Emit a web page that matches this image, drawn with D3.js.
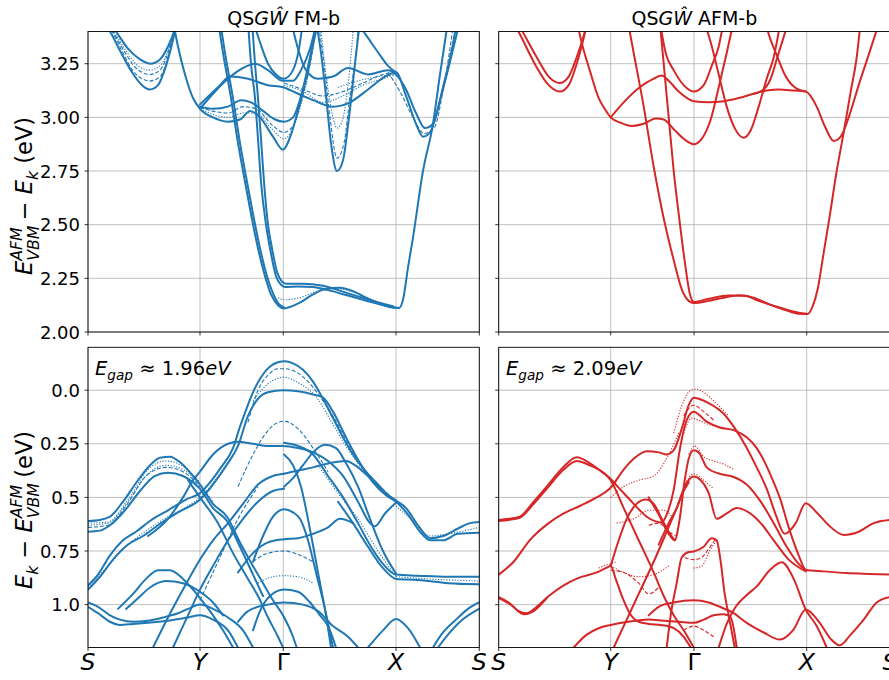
<!DOCTYPE html>
<html><head><meta charset="utf-8">
<script src="https://cdn.jsdelivr.net/npm/d3@7"></script>
<style>body{margin:0;background:#fff} text{font-family:"DejaVu Sans",sans-serif}</style>
</head><body><svg id="c" width="889" height="680"></svg>
<script>
// k-path node positions (arb. units) and labels
const kNodes = [0, 112, 195.3, 308, 391.3];
const kLabels = ["S", "Y", "Γ", "X", "S"];
const condTicks = [2.00, 2.25, 2.50, 2.75, 3.00, 3.25];
const condTickLabels = ["2.00", "2.25", "2.50", "2.75", "3.00", "3.25"];
const valTicks = [0.0, 0.25, 0.5, 0.75, 1.0];
const valTickLabels = ["0.0", "0.25", "0.5", "0.75", "1.0"];
const condDomain = [2.0, 3.4];
const valDomain = [-0.2, 1.2];
const gapFM = "1.96", gapAFM = "2.09";

// ---- FM conduction (top-left): [k, E]
const fmCondSolid = [
 [[14,3.45],[22,3.40],[32,3.31],[44,3.21],[54,3.15],[62,3.13],[70,3.15],[78,3.24],[85,3.36],[89,3.45]],
 [[20,3.45],[28,3.40],[40,3.32],[52,3.27],[62,3.25],[72,3.27],[80,3.33],[86,3.40],[89,3.45]],
 [[85,3.45],[90,3.33],[97,3.20],[105,3.09],[112,3.04],[125,3.0],[140,2.98],[152,2.99],[162,3.03],[172,3.0],[185,2.91],[195,2.85],[203,2.92],[211,3.05],[220,3.22],[228,3.40],[231,3.45]],
 [[112,3.05],[125,3.04],[140,3.05],[153,3.08],[163,3.07],[175,3.03],[187,2.99],[196,2.98],[205,3.0],[213,3.1],[222,3.28],[229,3.45]],
 [[112,3.04],[125,3.11],[140,3.18],[155,3.23],[167,3.25],[180,3.22],[195,3.17],[205,3.17],[213,3.22],[222,3.32],[229,3.45]],
 [[112,3.06],[130,3.14],[142,3.19],[160,3.18],[180,3.15],[195,3.14],[210,3.11],[225,3.08],[245,3.05],[262,3.07],[280,3.13],[297,3.19],[308,3.21],[318,3.10],[328,2.97],[335,2.91],[342,2.93],[352,3.08],[362,3.26],[372,3.45]],
 [[203,3.45],[210,3.32],[218,3.22],[230,3.18],[245,3.19],[260,3.23],[280,3.20],[300,3.22],[308,3.20],[318,3.13],[328,3.02],[337,2.95],[345,2.97],[355,3.14],[364,3.32],[369,3.45]],
 [[228,3.45],[233,3.30],[238,3.10],[243,2.88],[249,2.75],[255,2.80],[261,3.0],[267,3.25],[272,3.45]],
 [[130,3.45],[135,3.3],[143,3.09],[150,2.88],[157,2.70],[163,2.55],[170,2.39],[177,2.26],[183,2.175],[190,2.125],[196,2.11],[212,2.137],[225,2.175],[237,2.2],[252,2.206],[265,2.19],[280,2.155],[295,2.125],[305,2.113],[311,2.112],[315,2.15],[320,2.3],[325,2.44],[335,2.75],[345,2.97],[352,3.2],[360,3.45]],
 [[132,3.45],[137,3.3],[145,3.09],[152,2.88],[159,2.70],[165,2.55],[172,2.39],[179,2.26],[185,2.18],[191,2.13],[196,2.115]],
 [[160,3.45],[163,3.25],[167,3.09],[170,2.9],[173,2.70],[178,2.5],[182,2.39],[188,2.26],[193,2.22],[197,2.21],[210,2.212],[225,2.21],[240,2.195],[260,2.17],[285,2.137],[300,2.12],[311,2.112]],
 [[164,3.45],[167,3.25],[170,3.09],[173,2.9],[176,2.7],[180,2.5],[184,2.39],[189,2.28],[194,2.235],[198,2.225],[215,2.225],[235,2.215],[260,2.18],[285,2.145],[305,2.12]],
 [[165,3.45],[172,3.35],[180,3.25],[188,3.2],[196,3.18],[205,3.22],[211,3.32],[215,3.45]],
 [[268,3.45],[280,3.37],[292,3.29],[300,3.24],[308,3.21]]
];
const fmCondDashed = [
 [[17,3.45],[25,3.40],[36,3.31],[48,3.23],[62,3.20],[72,3.22],[80,3.30],[87,3.42],[89,3.45]],
 [[16,3.45],[24,3.40],[34,3.31],[46,3.21],[62,3.17],[72,3.19],[80,3.28],[87,3.42],[89,3.45]],
 [[112,3.045],[140,3.02],[155,3.05],[168,3.04],[185,2.96],[196,2.93],[205,2.96],[213,3.07],[222,3.25],[229,3.45]],
 [[230,3.45],[236,3.25],[242,3.0],[249,2.81],[256,2.88],[262,3.1],[268,3.3],[271,3.45]],
 [[300,3.21],[312,3.12],[325,3.0],[336,2.925],[346,2.95],[356,3.15],[366,3.45]],
 [[196,3.16],[215,3.13],[235,3.1],[255,3.12],[275,3.16],[295,3.2],[308,3.21]]
];
const fmCondDotted = [
 [[112,3.04],[140,3.0],[155,3.02],[168,3.02],[183,2.95],[196,2.90],[205,2.95],[213,3.06],[222,3.24],[229,3.45]],
 [[232,3.45],[238,3.2],[244,3.02],[249,2.95],[254,2.98],[260,3.15],[266,3.45]],
 [[196,3.15],[215,3.12],[235,3.07],[255,3.10],[275,3.15],[295,3.18],[308,3.2]],
 [[18,3.45],[26,3.40],[38,3.31],[50,3.24],[62,3.22],[72,3.24],[80,3.31],[87,3.42]],
 [[190,2.16],[196,2.15],[212,2.16],[230,2.19],[250,2.2],[270,2.18],[290,2.14],[308,2.115]],
 [[250,3.14],[270,3.17],[290,3.19],[308,3.2]]
];

// ---- AFM conduction (top-right)
const afmCondSolid = [
 [[18,3.45],[25,3.39],[38,3.28],[50,3.19],[61,3.16],[70,3.19],[78,3.28],[85,3.38],[89,3.45]],
 [[14,3.45],[22,3.38],[36,3.25],[50,3.15],[61,3.12],[70,3.15],[78,3.25],[85,3.37],[89,3.45]],
 [[78,3.45],[84,3.33],[91,3.22],[100,3.09],[106,3.04],[112,3.0],[122,2.975],[133,2.96],[145,2.97],[157,2.995],[165,2.99],[175,2.945],[185,2.90],[195,2.875],[203,2.9],[212,2.99],[220,3.14],[228,3.30],[235,3.45]],
 [[112,3.0],[125,3.07],[141,3.14],[155,3.18],[163,3.195],[170,3.17],[180,3.12],[195,3.075],[210,3.07],[225,3.075],[240,3.09],[255,3.11],[268,3.125],[280,3.13],[295,3.125],[307,3.12],[318,3.05],[326,2.96],[335,2.89],[342,2.91],[350,3.0],[360,3.15],[372,3.32],[381,3.45]],
 [[129,3.45],[135,3.3],[145,3.05],[155,2.77],[165,2.53],[175,2.335],[183,2.2],[190,2.145],[195,2.135],[210,2.145],[225,2.16],[240,2.17],[255,2.16],[270,2.13],[285,2.105],[300,2.085],[309,2.084],[314,2.12],[319,2.2],[325,2.37],[331,2.54],[338,2.75],[345,2.93],[352,3.12],[358,3.28],[362,3.45]],
 [[161,3.45],[165,3.25],[170,3.0],[175,2.75],[180,2.55],[186,2.33],[191,2.18],[195,2.14],[210,2.155],[230,2.17],[245,2.17],[260,2.145],[280,2.115],[300,2.09],[308,2.085]],
 [[161,3.45],[167,3.30],[175,3.22],[185,3.15],[195,3.12],[205,3.15],[213,3.24],[220,3.33],[225,3.45]],
 [[255,3.11],[265,3.13],[272,3.18],[278,3.27],[284,3.36],[290,3.45]],
 [[205,3.45],[212,3.35],[220,3.2],[228,3.05],[236,2.95],[245,2.905],[252,2.94],[260,3.05],[268,3.18],[275,3.28],[282,3.45]],
 [[266,3.45],[272,3.36],[278,3.29],[286,3.2],[296,3.14],[307,3.12]]
];

// ---- FM valence (bottom-left): [k, E]  (E measured downward)
const fmValSolid = [
 [[0,0.61],[12,0.605],[22,0.59],[35,0.52],[50,0.42],[62,0.35],[72,0.315],[82,0.31],[93,0.34],[105,0.40],[112,0.44],[125,0.53],[139,0.59],[152,0.71],[165,0.82],[175,0.90],[185,0.98],[195,1.05],[205,1.15],[210,1.22]],
 [[0,0.66],[12,0.655],[22,0.63],[37,0.56],[52,0.47],[67,0.40],[80,0.385],[95,0.40],[105,0.43],[112,0.46],[125,0.55],[139,0.61],[152,0.73],[165,0.86],[175,0.96]],
 [[0,0.91],[10,0.86],[22,0.77],[35,0.70],[48,0.66],[62,0.61],[80,0.56],[98,0.51],[112,0.48],[122,0.43],[133,0.36],[145,0.27],[152,0.17],[159,0.08],[166,0.0],[173,-0.06],[182,-0.11],[190,-0.13],[197,-0.135],[205,-0.125],[215,-0.095],[225,-0.04],[235,0.04],[245,0.13],[255,0.22],[265,0.30],[278,0.38],[292,0.45],[300,0.49],[308,0.515],[318,0.55],[330,0.63],[342,0.69],[355,0.68],[370,0.645],[382,0.62],[391,0.615]],
 [[0,0.93],[12,0.87],[25,0.79],[40,0.72],[55,0.68],[70,0.63],[90,0.57],[112,0.51],[125,0.44],[140,0.34],[150,0.26],[160,0.12],[170,0.04],[180,0.01],[195,0.0],[210,0.005],[225,0.02],[235,0.035],[245,0.10],[258,0.22],[272,0.34],[285,0.43],[298,0.49],[308,0.52],[320,0.58],[332,0.66],[342,0.70],[355,0.70],[370,0.67],[391,0.665]],
 [[60,0.68],[80,0.60],[95,0.50],[105,0.42],[112,0.38],[125,0.30],[140,0.25],[150,0.24],[165,0.25],[180,0.26],[195,0.26],[210,0.27],[225,0.29],[240,0.33],[255,0.40],[270,0.52],[282,0.62],[287,0.635],[297,0.575],[308,0.525]],
 [[196,0.245],[210,0.26],[225,0.30],[240,0.40],[255,0.50],[270,0.62],[283,0.73],[295,0.81],[308,0.86],[330,0.865],[360,0.87],[391,0.87]],
 [[250,0.52],[265,0.62],[280,0.73],[295,0.83],[308,0.88],[330,0.885],[360,0.9],[391,0.905]],
 [[196,0.39],[210,0.375],[225,0.36],[242,0.34],[258,0.33],[270,0.36],[282,0.41],[295,0.47],[308,0.515]],
 [[196,0.45],[205,0.41],[215,0.35],[225,0.29],[237,0.255],[248,0.27],[258,0.34],[270,0.45],[282,0.60],[295,0.75],[308,0.855]],
 [[165,0.80],[175,0.68],[185,0.59],[196,0.555],[205,0.57],[212,0.60],[220,0.70],[228,0.85],[236,1.0],[245,1.2]],
 [[150,0.85],[165,0.76],[180,0.71],[196,0.695],[210,0.69],[225,0.67],[240,0.64],[252,0.6],[265,0.62]],
 [[165,1.12],[172,1.03],[182,0.96],[196,0.93],[210,0.94],[222,0.99],[232,1.05],[240,1.1],[248,1.2]],
 [[150,1.08],[160,1.03],[180,1.0],[196,0.99],[215,1.0],[230,1.03],[245,1.1],[260,1.15],[270,1.2]],
 [[345,1.2],[355,1.13],[368,1.07],[380,1.02],[391,0.99]],
 [[350,1.2],[360,1.14],[372,1.08],[391,1.02]],
 [[280,1.2],[295,1.12],[308,1.067],[320,1.11],[332,1.2]],
 [[0,0.99],[10,1.01],[22,1.05],[32,1.07],[45,1.08],[60,1.075],[75,1.06],[90,1.04],[100,1.02],[112,1.0],[125,1.02],[140,1.06],[155,1.12],[165,1.2]],
 [[0,1.01],[10,1.04],[22,1.08],[32,1.095],[45,1.09],[60,1.085],[80,1.075],[100,1.06],[112,1.05],[125,1.07],[140,1.12],[150,1.2]],
 [[30,1.02],[45,0.95],[58,0.88],[70,0.84],[82,0.84],[95,0.88],[105,0.93],[112,0.97],[125,1.05],[135,1.12],[145,1.2]],
 [[38,1.02],[50,0.97],[62,0.92],[78,0.89],[95,0.9],[112,0.94],[125,0.99],[135,1.05]],
 [[65,1.2],[80,1.06],[95,0.93],[112,0.79],[125,0.70],[140,0.62],[155,0.53],[170,0.44],[185,0.40],[196,0.39]],
 [[85,1.2],[100,1.05],[112,0.93],[125,0.82],[140,0.70],[155,0.60],[170,0.52],[185,0.47],[196,0.46]],
 [[100,0.42],[112,0.50],[130,0.62],[145,0.76],[160,0.88],[170,0.96],[180,1.06],[190,1.15],[195,1.2]],
 [[196,0.30],[205,0.35],[213,0.45],[222,0.65],[230,0.85],[238,1.05],[243,1.2]]
];
const fmValDashed = [
 [[160,0.15],[170,0.0],[180,-0.07],[190,-0.1],[197,-0.1],[208,-0.085],[220,-0.04],[232,0.03],[245,0.12],[260,0.25],[275,0.36],[290,0.44],[308,0.515]],
 [[150,0.45],[165,0.30],[178,0.2],[190,0.15],[196,0.145],[210,0.18],[225,0.27],[240,0.38]],
 [[165,0.8],[180,0.76],[196,0.75],[212,0.77],[225,0.8]],
 [[112,0.98],[130,0.8],[150,0.6],[170,0.45]],
 [[0,0.64],[20,0.63],[38,0.54],[58,0.40],[78,0.36],[95,0.38],[112,0.45]]
];
const fmValDotted = [
 [[0,0.63],[20,0.62],[40,0.52],[60,0.39],[78,0.35],[95,0.37],[112,0.44],[125,0.52]],
 [[0,0.92],[20,0.82],[40,0.72],[60,0.65],[80,0.59],[100,0.54],[112,0.5],[130,0.4],[145,0.3]],
 [[165,0.05],[180,-0.03],[196,-0.06],[212,-0.03],[228,0.03],[245,0.16],[262,0.29],[280,0.40],[300,0.49]],
 [[170,0.90],[185,0.87],[196,0.865],[210,0.87],[225,0.9]],
 [[230,0.35],[250,0.48],[270,0.60],[290,0.75],[308,0.87]],
 [[308,0.54],[325,0.61],[342,0.68],[360,0.67],[391,0.64]],
 [[308,0.87],[340,0.88],[391,0.89]],
 [[0,0.62],[20,0.615],[40,0.51],[60,0.37],[78,0.33],[95,0.355],[112,0.43]]
];

// ---- AFM valence (bottom-right)
const afmValSolid = [
 [[0,0.605],[10,0.60],[21,0.59],[35,0.52],[48,0.45],[65,0.357],[78,0.313],[91,0.34],[100,0.37],[111,0.41],[121,0.46],[131,0.51],[140,0.555],[148,0.59],[157,0.612],[163,0.617],[168,0.58],[175,0.465],[181,0.28],[188,0.14],[195,0.10],[208,0.147],[221,0.174],[235,0.186],[248,0.22],[258,0.27],[265,0.326],[275,0.43],[281,0.5],[290,0.64],[300,0.77],[307,0.837],[325,0.845],[348,0.853],[370,0.857],[391,0.86]],
 [[0,0.61],[10,0.605],[21,0.595],[35,0.53],[48,0.46],[65,0.37],[78,0.33],[91,0.35],[100,0.37],[112,0.42],[125,0.55],[140,0.70],[155,0.85],[165,0.96],[175,1.05],[185,1.12],[195,1.2]],
 [[0,0.86],[15,0.80],[31,0.70],[50,0.62],[65,0.575],[81,0.54],[98,0.50],[112,0.455],[125,0.37],[135,0.32],[148,0.285],[160,0.29],[168,0.30],[175,0.28],[183,0.18],[190,0.07],[195,0.035],[200,0.04],[210,0.06],[225,0.11],[235,0.17],[247,0.26],[258,0.36],[268,0.46],[277,0.58],[286,0.67],[297,0.62],[307,0.527],[318,0.57],[330,0.63],[345,0.675],[360,0.66],[375,0.62],[391,0.605]],
 [[150,0.50],[160,0.58],[170,0.67],[176,0.70],[181,0.60],[186,0.42],[190,0.32],[195,0.28],[200,0.29],[208,0.36],[221,0.39],[235,0.405],[248,0.44],[262,0.52],[275,0.62],[288,0.73],[300,0.81],[307,0.84]],
 [[160,0.72],[170,0.62],[178,0.55],[185,0.46],[190,0.42],[195,0.403],[202,0.42],[210,0.48],[218,0.6],[228,0.575],[238,0.55],[250,0.57],[262,0.62],[275,0.7],[290,0.79],[307,0.845]],
 [[168,1.2],[172,1.05],[178,0.9],[183,0.78],[190,0.755],[195,0.752],[205,0.73],[213,0.69],[218,0.7],[222,0.8],[226,0.95],[230,1.05],[236,1.2]],
 [[0,0.965],[10,0.99],[20,1.03],[28,1.04],[38,1.01],[50,0.96],[65,0.91],[80,0.875],[98,0.85],[107,0.83],[112,0.82],[117,0.88],[124,0.97],[131,1.04],[140,1.08],[150,1.09],[162,1.095],[175,1.11],[185,1.15],[192,1.2]],
 [[0,0.97],[12,1.0],[25,1.045],[35,1.03],[48,0.97]],
 [[115,1.2],[125,1.1],[140,0.95],[155,0.80],[168,0.66],[178,0.55],[185,0.47],[190,0.43]],
 [[75,1.2],[88,1.14],[100,1.11],[112,1.095],[130,1.08],[150,1.07],[165,1.075],[180,1.08],[195,1.085],[205,1.07],[215,1.05],[225,1.045],[232,1.06],[238,1.2]],
 [[150,1.05],[160,1.01],[175,0.99],[195,0.98],[210,0.99],[221,1.01],[235,1.04],[248,1.085],[265,1.13],[281,1.163],[295,1.115],[307,1.023],[321,1.085],[332,1.16],[341,1.19],[352,1.14],[365,1.07],[378,0.99],[391,0.965]],
 [[220,1.2],[228,1.09],[237,1.01],[247,0.96],[258,0.915],[271,0.84],[283,0.803],[295,0.88],[307,1.023],[318,1.1],[328,1.2]],
 [[112,0.82],[120,0.70],[128,0.6],[138,0.53],[147,0.51],[155,0.53],[163,0.6],[170,0.66],[176,0.70]]
];
const afmValDashed = [
 [[112,0.84],[125,0.85],[140,0.9],[150,0.95],[160,0.92]],
 [[186,0.78],[195,0.79],[203,0.78],[210,0.74],[216,0.70]],
 [[150,0.63],[160,0.62],[170,0.66],[178,0.68]],
 [[185,0.12],[195,0.07],[205,0.1],[215,0.14]],
 [[185,1.12],[195,1.1],[205,1.12],[215,1.15]]
];
const afmValDotted = [
 [[175,0.2],[185,0.05],[192,0.0],[197,-0.005],[205,0.01],[215,0.05],[230,0.12]],
 [[185,0.2],[193,0.13],[197,0.135],[210,0.16],[220,0.17]],
 [[185,0.45],[195,0.39],[205,0.42],[215,0.46]],
 [[190,0.30],[196,0.26],[205,0.31],[215,0.33],[225,0.345],[235,0.37]],
 [[195,0.83],[203,0.82],[212,0.74],[218,0.7]],
 [[112,0.82],[125,0.85],[140,0.87],[155,0.86],[170,0.82]],
 [[118,0.62],[135,0.6],[150,0.56],[165,0.56],[175,0.6]],
 [[100,0.83],[107,0.815],[112,0.81],[118,0.8]],
 [[112,0.5],[125,0.45],[140,0.42],[155,0.4],[170,0.3],[180,0.2]]
];

// ---------------- drawing ----------------
const svg = d3.select("#c");
const BLUE = "#1f77b4", RED = "#d62728";
const cols = [{x0: 88, x1: 479.3}, {x0: 498.7, x1: 890}];
const rows = [{y0: 31.5, y1: 332}, {y0: 347.3, y1: 647.5}];
const TICK_FS = 18;

function mathText(parent, x, y, size, parts, anchor, rotate) {
  const t = parent.append("text").attr("x", x).attr("y", y).attr("font-size", size)
    .attr("text-anchor", anchor || "start").attr("fill", "#000");
  if (rotate) t.attr("transform", `rotate(${rotate},${x},${y})`);
  let prev = 0, prevNode = null;
  parts.forEach(p => {
    const ts = t.append("tspan").text(p.t);
    if (p.it) ts.attr("font-style", "italic");
    const fs = size * (p.s || 1);
    ts.attr("font-size", fs);
    const sh = (p.dy || 0) * size;
    ts.attr("dy", sh - prev); prev = sh;
    if (p.back && prevNode) {
      const w = prevNode.getComputedTextLength();
      ts.attr("dx", -w);
    }
    prevNode = ts.node();
  });
  return t;
}

function panel(ci, ri, domain, ticks, tickLabels, sets, showYLabels, showXLabels) {
  const c = cols[ci], r = rows[ri];
  const x = d3.scaleLinear().domain([kNodes[0], kNodes[4]]).range([c.x0, c.x1]);
  const y = ri === 0 ? d3.scaleLinear().domain(domain).range([r.y1, r.y0])
                     : d3.scaleLinear().domain(domain).range([r.y0, r.y1]);
  const g = svg.append("g");
  const id = `clip${ci}${ri}`;
  svg.append("clipPath").attr("id", id).append("rect")
    .attr("x", c.x0).attr("y", r.y0).attr("width", c.x1 - c.x0).attr("height", r.y1 - r.y0);
  g.selectAll(".gx").data(kNodes).join("line")
    .attr("x1", d => x(d)).attr("x2", d => x(d)).attr("y1", r.y0).attr("y2", r.y1)
    .attr("stroke", "#b0b0b0").attr("stroke-width", 0.8);
  g.selectAll(".gy").data(ticks).join("line")
    .attr("x1", c.x0).attr("x2", c.x1).attr("y1", d => y(d)).attr("y2", d => y(d))
    .attr("stroke", "#b0b0b0").attr("stroke-width", 0.8);
  const line = d3.line().x(d => x(d[0])).y(d => y(d[1])).curve(d3.curveMonotoneX);
  const lg = g.append("g").attr("clip-path", `url(#${id})`);
  sets.forEach(s => {
    lg.append("g").selectAll("path").data(s.data).join("path")
      .attr("d", line).attr("fill", "none").attr("stroke", s.color)
      .attr("stroke-width", s.w).attr("stroke-dasharray", s.dash || null)
      .attr("stroke-linecap", s.dash ? "butt" : "round").attr("stroke-linejoin", "round");
  });
  g.append("rect").attr("x", c.x0).attr("y", r.y0).attr("width", c.x1 - c.x0).attr("height", r.y1 - r.y0)
    .attr("fill", "none").attr("stroke", "#000").attr("stroke-width", 0.9);
  g.selectAll(".ty").data(ticks).join("line")
    .attr("x1", c.x0 - 3.5).attr("x2", c.x0).attr("y1", d => y(d)).attr("y2", d => y(d))
    .attr("stroke", "#000").attr("stroke-width", 0.8);
  if (showYLabels) {
    g.selectAll(".tl").data(ticks).join("text")
      .attr("x", c.x0 - 8).attr("y", d => y(d) + 6.5).attr("text-anchor", "end")
      .attr("font-size", TICK_FS).text((d, i) => tickLabels[i]);
  }
  g.selectAll(".tx").data(kNodes).join("line")
    .attr("x1", d => x(d)).attr("x2", d => x(d)).attr("y1", r.y1).attr("y2", r.y1 + 3.5)
    .attr("stroke", "#000").attr("stroke-width", 0.8);
  if (showXLabels) {
    g.selectAll(".xl").data(kNodes).join("text")
      .attr("x", d => x(d)).attr("y", r.y1 + 22.5).attr("text-anchor", "middle")
      .attr("font-size", 23.5).attr("font-style", (d, i) => kLabels[i] === "Γ" ? "normal" : "italic")
      .text((d, i) => kLabels[i]);
  }
}

const W = 2.0, WT = 1.1;
panel(0, 0, condDomain, condTicks, condTickLabels, [
  {data: fmCondDotted, color: BLUE, w: WT, dash: "1.2,1.6"},
  {data: fmCondDashed, color: BLUE, w: WT, dash: "4,2"},
  {data: fmCondSolid, color: BLUE, w: W}
], true, false);
panel(1, 0, condDomain, condTicks, condTickLabels, [
  {data: afmCondSolid, color: RED, w: W}
], false, false);
panel(0, 1, valDomain, valTicks, valTickLabels, [
  {data: fmValDotted, color: BLUE, w: WT, dash: "1.2,1.6"},
  {data: fmValDashed, color: BLUE, w: WT, dash: "4,2"},
  {data: fmValSolid, color: BLUE, w: W}
], true, true);
panel(1, 1, valDomain, valTicks, valTickLabels, [
  {data: afmValDotted, color: RED, w: WT, dash: "1.2,1.6"},
  {data: afmValDashed, color: RED, w: WT, dash: "4,2"},
  {data: afmValSolid, color: RED, w: W}
], false, true);

// titles
const titleParts = (tail) => [{t: "QS"}, {t: "G", it: true}, {t: "Ŵ", it: true}, {t: tail}];
mathText(svg, (cols[0].x0 + cols[0].x1) / 2, 25, 19, titleParts(" FM-b"), "middle");
mathText(svg, (cols[1].x0 + cols[1].x1) / 2, 25, 19, titleParts(" AFM-b"), "middle");

// y labels
mathText(svg, 32, 196, 22.5, [
  {t: "E", it: true}, {t: "VBM", it: true, s: 0.7, dy: 0.3}, {t: "AFM", it: true, s: 0.7, dy: -0.45, back: true},
  {t: " − ", dy: 0}, {t: "E", it: true}, {t: "k", it: true, s: 0.7, dy: 0.25}, {t: " (eV)", dy: 0}
], "middle", -90);
mathText(svg, 32, 510, 22.5, [
  {t: "E", it: true}, {t: "k", it: true, s: 0.7, dy: 0.25}, {t: " − ", dy: 0},
  {t: "E", it: true}, {t: "VBM", it: true, s: 0.7, dy: 0.3}, {t: "AFM", it: true, s: 0.7, dy: -0.45, back: true},
  {t: " (eV)", dy: 0}
], "middle", -90);

// gap annotations
const gapParts = (v) => [{t: "E", it: true}, {t: "gap", it: true, s: 0.7, dy: 0.25}, {t: " ≈ " + v, dy: 0}, {t: "eV", it: true}];
mathText(svg, 95, 375, 19.5, gapParts(gapFM), "start");
mathText(svg, 506, 375, 19.5, gapParts(gapAFM), "start");
</script></body></html>
